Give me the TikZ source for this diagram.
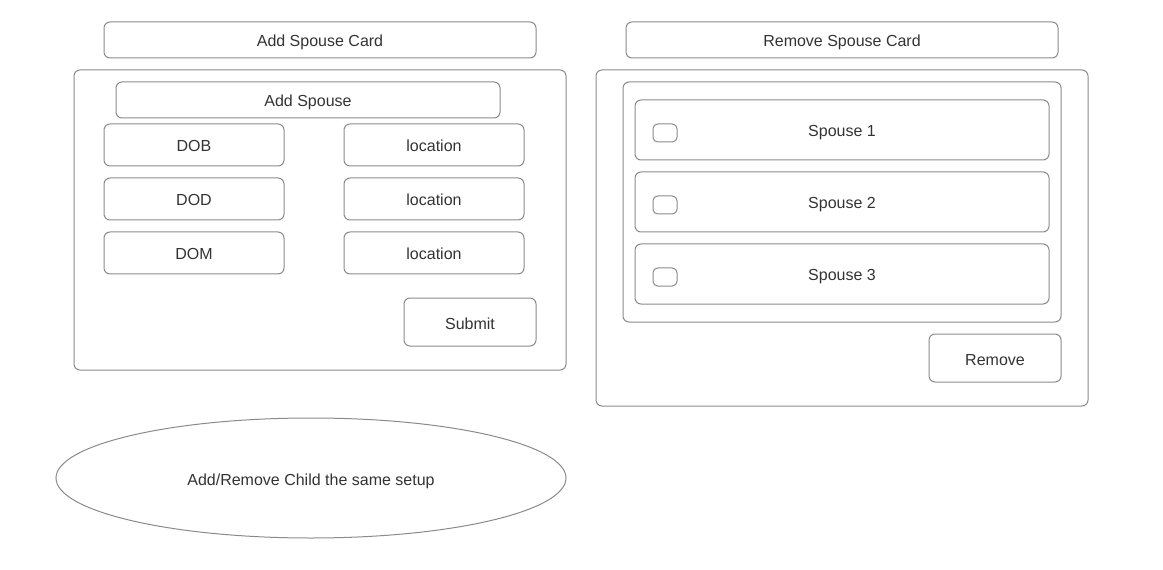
\documentclass[tikz,border=0pt]{standalone}
\usepackage{fontspec}
\setmainfont{Liberation Sans}
\usepackage{xcolor}
\usetikzlibrary{shapes.geometric}
\definecolor{edgegray}{HTML}{8A8A8A}
\definecolor{textgray}{HTML}{333333}
\tikzset{
    uibox/.style={draw=edgegray,line width=0.75pt,rounded corners=4.5pt,inner sep=0pt,text height=10.5pt,text depth=0pt,text=textgray,font=\fontsize{12}{14}\selectfont},
    fieldbox/.style={uibox,minimum width=135pt,minimum height=31.5pt},
    btnbox/.style={uibox,minimum width=99pt,minimum height=36pt},
    titlebox/.style={uibox,minimum width=324pt,minimum height=27pt},
    spousebox/.style={uibox,minimum width=310.5pt,minimum height=45pt},
    tickbox/.style={uibox,rounded corners=3.5pt,minimum width=18pt,minimum height=13.5pt}
}
\begin{document}
\begin{tikzpicture}[x=0.75pt,y=-0.75pt]
        \useasboundingbox (0,0) rectangle (1163,570);
        \node[titlebox] (addcard) at (320,40) {Add Spouse Card};
        \node[uibox,minimum width=369pt,minimum height=225pt] (leftcard) at (320,220) {};
        \node[uibox,minimum width=288pt,minimum height=27pt] (addspouse) at (308,100) {Add Spouse};
        \node[fieldbox] (dob) at (194,145) {DOB};
        \node[fieldbox] (dod) at (194,199) {DOD};
        \node[fieldbox] (dom) at (194,253) {DOM};
        \node[fieldbox] (locb) at (434,145) {location};
        \node[fieldbox] (locd) at (434,199) {location};
        \node[fieldbox] (locm) at (434,253) {location};
        \node[btnbox] (submit) at (470,322) {Submit};
        \node[titlebox] (remcard) at (842,40) {Remove Spouse Card};
        \node[uibox,minimum width=369pt,minimum height=252pt] (rightcard) at (842,238) {};
        \node[uibox,minimum width=328.5pt,minimum height=180pt] (spouselist) at (842,202) {};
        \node[spousebox] (spousea) at (842,130) {Spouse 1};
        \node[spousebox] (spouseb) at (842,202) {Spouse 2};
        \node[spousebox] (spousec) at (842,274) {Spouse 3};
        \node[tickbox] (ticka) at (665,133) {};
        \node[tickbox] (tickb) at (665,205) {};
        \node[tickbox] (tickc) at (665,277) {};
        \node[btnbox] (remove) at (995,358) {Remove};
        \node[uibox,ellipse,minimum width=382.5pt,minimum height=90pt] (childnote) at (311,478) {Add/Remove Child the same setup};
    \end{tikzpicture}
\end{document}
